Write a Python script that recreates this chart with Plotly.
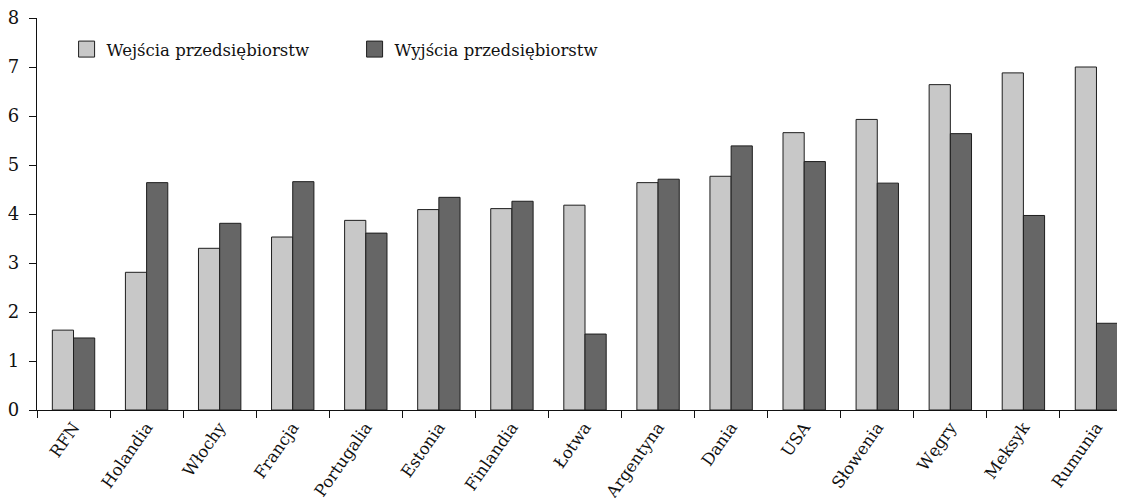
import plotly.graph_objects as go

countries = ["RFN", "Holandia", "Włochy", "Francja", "Portugalia", "Estonia", "Finlandia",
             "Łotwa", "Argentyna", "Dania", "USA", "Słowenia", "Węgry", "Meksyk", "Rumunia"]
entries = [1.63, 2.81, 3.30, 3.53, 3.87, 4.09, 4.11, 4.18, 4.64, 4.77, 5.66, 5.93, 6.64, 6.88, 7.00]
exits = [1.47, 4.64, 3.81, 4.66, 3.61, 4.34, 4.26, 1.55, 4.71, 5.39, 5.07, 4.63, 5.64, 3.97, 1.77]
series_names = ["Wejścia przedsiębiorstw", "Wyjścia przedsiębiorstw"]
yticks = [0, 1, 2, 3, 4, 5, 6, 7, 8]

light = "#c8c8c8"
dark = "#666666"
edge = "#1e1e1e"
font_family = "DejaVu Serif"

fig = go.Figure()
fig.add_trace(go.Bar(x=countries, y=entries, name=series_names[0], showlegend=False,
                     marker=dict(color=light, line=dict(color=edge, width=1))))
fig.add_trace(go.Bar(x=countries, y=exits, name=series_names[1], showlegend=False,
                     marker=dict(color=dark, line=dict(color=edge, width=1))))
# legend-only entries with larger square symbols
for nm, col in zip(series_names, [light, dark]):
    fig.add_trace(go.Scatter(x=[None], y=[None], mode="markers", name=nm,
                             marker=dict(symbol="square", size=17, color=col,
                                         line=dict(color=edge, width=1))))

fig.update_layout(
    width=1125, height=498,
    margin=dict(l=29, r=0, t=10, b=96, autoexpand=False),
    paper_bgcolor="white", plot_bgcolor="white",
    barmode="group", bargap=0.42, bargroupgap=0,
    font=dict(family=font_family, size=17, color="#111111"),
    legend=dict(orientation="h", x=0.027, y=0.92, xanchor="left", yanchor="middle",
                entrywidth=243, entrywidthmode="pixels",
                font=dict(family=font_family, size=16.5), bgcolor="rgba(0,0,0,0)",
                itemsizing="trace"),
    xaxis=dict(showline=True, linecolor="#111111", linewidth=1.2,
               ticks="outside", ticklen=7, tickcolor="#111111", tickson="boundaries",
               tickangle=-55, showgrid=False, zeroline=False, automargin=False,
               tickfont=dict(family=font_family, size=16.5)),
    yaxis=dict(range=[0, 8], tickvals=yticks, showline=True, linecolor="#111111", linewidth=1.2,
               ticks="outside", ticklen=7, tickcolor="#111111", showgrid=False, zeroline=False,
               ticklabelstandoff=6, ticklabeloverflow="allow", automargin=False,
               tickfont=dict(family=font_family, size=18)),
)

fig.write_html("out.html")
